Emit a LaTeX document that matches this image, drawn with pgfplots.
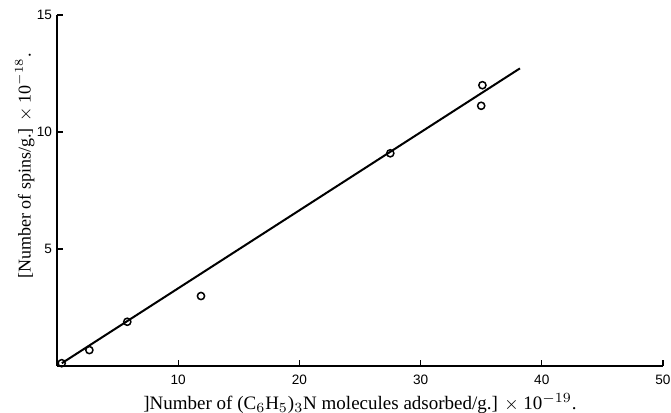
\documentclass[border=0pt]{standalone}
\usepackage{pgfplots}
\pgfplotsset{compat=1.18}
\usepackage{fontspec}
\setmainfont{Liberation Serif}
\newfontfamily\tickfont{Liberation Sans}
\begin{document}
\begin{tikzpicture}
\begin{axis}[
  at={(0,0)}, anchor=south west,
  scale only axis,
  width=303pt, height=175.5pt,
  xmin=0, xmax=50, ymin=0, ymax=15,
  axis x line=bottom, axis y line=left,
  axis line style={-, line width=0.75pt},
  tick align=inside,
  major tick length=3pt,
  tick style={line width=0.6pt, black},
  xtick={10,20,30,40,50},
  ytick={5,10,15},
  /pgf/number format/assume math mode=true,
  tick label style={font=\tickfont\fontsize{6.8}{7}\selectfont},
  xticklabel style={yshift=-1pt},
  yticklabel style={xshift=1pt},
  xlabel={]Number of (C$_6$H$_5$)$_3$N molecules adsorbed/g.] $\times$ 10$^{-19}$.},
  ylabel={[Number of spins/g.] $\times$ 10$^{-18}$.},
  xlabel style={font=\fontsize{9.5}{11}\selectfont, at={(axis description cs:0.5,0)}, anchor=north, yshift=-10pt},
  ylabel style={font=\fontsize{9}{11}\selectfont, at={(axis description cs:-0.053,0.57)}, anchor=center},
]
\addplot[black, line width=1pt] coordinates {(0.4,0.12) (38.2,12.72)};
\addplot[only marks, mark=o, mark size=1.8pt, mark options={line width=0.75pt, black}] coordinates {
(0.39,0.12) (2.67,0.68) (5.8,1.89) (11.88,2.99) (27.5,9.09) (35.1,12.0) (35.0,11.12)
};
\end{axis}
\pgfresetboundingbox
\path (-28.5pt,-23.5pt) rectangle (307pt,183pt);
\end{tikzpicture}
\end{document}
